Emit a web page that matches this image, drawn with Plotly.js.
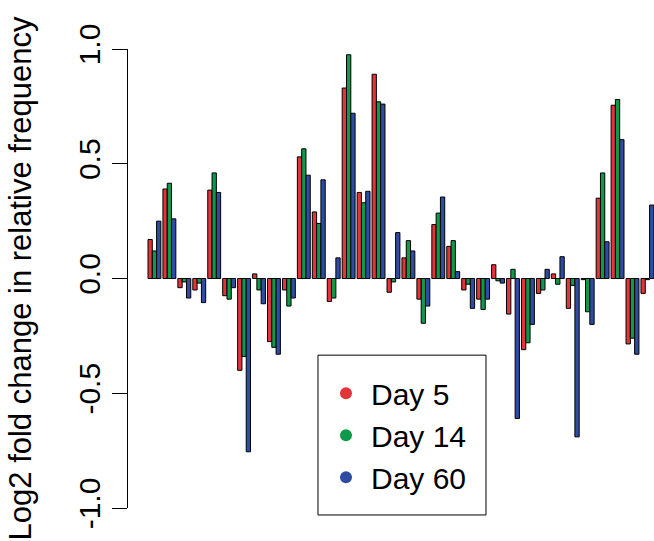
<!DOCTYPE html>
<html>
<head>
<meta charset="utf-8">
<script src="https://cdn.plot.ly/plotly-3.0.1.min.js"></script>
<style>html,body{margin:0;padding:0;background:#fff;}#chart{width:654px;height:541px;}</style>
</head>
<body>
<div id="chart"></div>
<script>
const groups = ['G1','G2','G3','G4','G5','G6','G7','G8','G9','G10','G11','G12','G13','G14','G15','G16','G17',
                'G18','G19','G20','G21','G22','G23','G24','G25','G26','G27','G28','G29','G30','G31','G32','G33','G34'];
const seriesNames = ['Day 5', 'Day 14', 'Day 60'];
const day5  = [0.17, 0.39, -0.04, -0.05, 0.385, -0.075, -0.40, 0.02, -0.275, -0.05, 0.53, 0.29, -0.10, 0.83, 0.375, 0.89, -0.06,
               0.09, -0.09, 0.235, 0.14, -0.05, -0.09, 0.06, -0.155, -0.31, -0.065, 0.02, -0.13, -0.005, 0.35, 0.755, -0.285, -0.065];
const day14 = [0.12, 0.415, -0.015, -0.02, 0.46, -0.09, -0.34, -0.05, -0.30, -0.12, 0.565, 0.24, -0.085, 0.975, 0.33, 0.77, -0.015,
               0.165, -0.195, 0.285, 0.165, -0.025, -0.135, -0.01, 0.04, -0.28, -0.05, -0.025, -0.03, -0.145, 0.46, 0.78, -0.26, -0.005];
const day60 = [0.25, 0.26, -0.085, -0.105, 0.375, -0.04, -0.755, -0.11, -0.33, -0.085, 0.45, 0.43, 0.09, 0.72, 0.38, 0.76, 0.20,
               0.12, -0.12, 0.355, 0.03, -0.13, -0.09, -0.02, -0.61, -0.20, 0.04, 0.095, -0.69, -0.20, 0.16, 0.605, -0.33, 0.32];
const yTickVals = [-1, -0.5, 0, 0.5, 1];
const yTickText = ['-1.0', '-0.5', '0.0', '0.5', '1.0'];
const colors = ['#E3343A', '#0E9A4A', '#2E4CA3'];
const values = [day5, day14, day60];

const FONT = 'Liberation Sans, Arial, Helvetica, sans-serif';
const traces = [];
values.forEach((v, i) => {
  traces.push({
    type: 'bar', x: groups, y: v, name: seriesNames[i], showlegend: false,
    marker: {color: colors[i], line: {color: '#000', width: 1}}
  });
});
seriesNames.forEach((n, i) => {
  traces.push({
    type: 'scatter', mode: 'markers', x: [null], y: [null], name: n,
    marker: {color: colors[i], size: 12}, showlegend: true
  });
});

const layout = {
  width: 654, height: 541,
  margin: {l: 128, r: 0, t: 48.5, b: 33, pad: 0},
  paper_bgcolor: '#fff', plot_bgcolor: '#fff',
  barmode: 'group', bargap: 0.137, bargroupgap: 0,
  showlegend: true,
  font: {family: FONT, color: '#000', size: 30},
  xaxis: {range: [-1.77, 33.44], showticklabels: false, ticks: '', showline: false,
          zeroline: false, showgrid: false, fixedrange: true},
  yaxis: {range: [-1, 1], tickvals: yTickVals, ticktext: yTickText, tickangle: -90,
          ticks: 'outside', ticklen: 15, tickwidth: 1, tickcolor: '#000',
          showline: true, linecolor: '#000', linewidth: 1, zeroline: false, showgrid: false,
          tickfont: {family: FONT, size: 30, color: '#000'}, automargin: false,
          title: {text: 'Log2 fold change in relative frequency', font: {family: FONT, size: 31, color: '#000'}, standoff: 32}},
  legend: {x: 0.3669, y: 0.3069, xanchor: 'left', yanchor: 'top',
           borderwidth: 0, bgcolor: 'rgba(0,0,0,0)',
           font: {family: FONT, size: 30, color: '#000'}, itemwidth: 40},
  shapes: [{type: 'rect', xref: 'paper', yref: 'paper', x0: 0.3612, x1: 0.6806, y0: -0.0152, y1: 0.333,
            line: {color: '#000', width: 1}, fillcolor: 'rgba(0,0,0,0)', layer: 'above'}]
};
Plotly.newPlot('chart', traces, layout, {staticPlot: true, displayModeBar: false});
</script>
</body>
</html>
